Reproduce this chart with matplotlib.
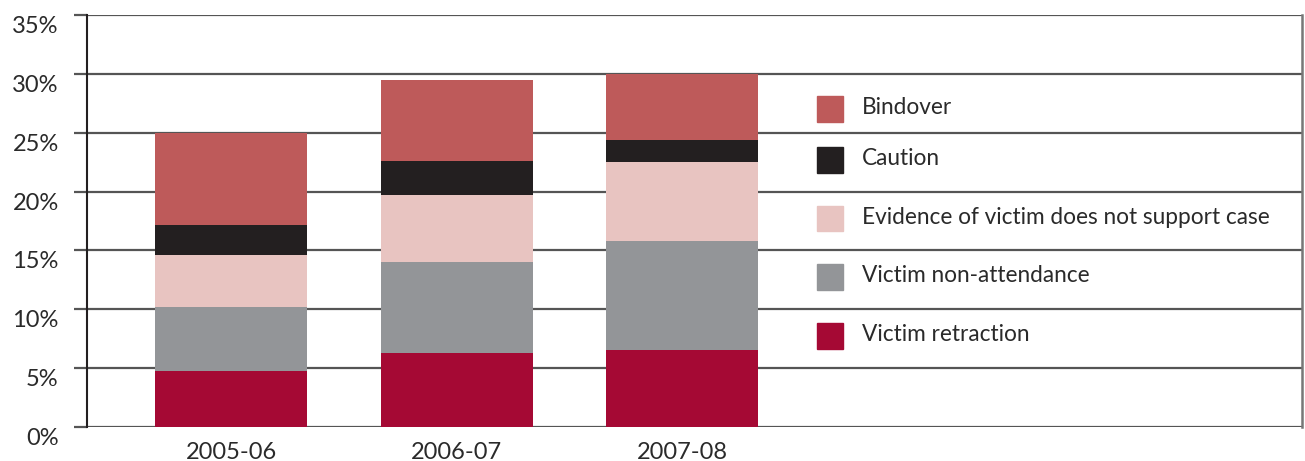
import numpy as np
import matplotlib.pyplot as plt
import matplotlib.transforms as mtransforms
from matplotlib.patches import Rectangle

# data (% of cases)
years = ['2005-06', '2006-07', '2007-08']
retraction = [4.75, 6.3, 6.55]
non_attendance = [5.45, 7.7, 9.25]
evidence = [4.4, 5.7, 6.7]
caution = [2.55, 2.9, 1.9]
bindover = [7.8, 6.9, 5.6]

series = [retraction, non_attendance, evidence, caution, bindover]
labels = ['Victim retraction', 'Victim non-attendance',
          'Evidence of victim does not support case', 'Caution', 'Bindover']
colors = ['#A50934', '#939598', '#E8C4C1', '#231F20', '#BE5A5A']
legend_rows = [7.75, 12.75, 17.7, 22.7, 27.0]

plt.rcParams['font.family'] = ['Lato', 'DejaVu Sans']

fig = plt.figure(figsize=(13.05, 4.61), dpi=100)
ax = fig.add_axes([87 / 1305, 34 / 461, 1215 / 1305, 412 / 461])

x = np.arange(len(years))
bottom = np.zeros(len(years))
for vals, lab, col in zip(series, labels, colors):
    ax.bar(x, vals, width=0.674, bottom=bottom, color=col, label=lab, zorder=3)
    bottom += np.array(vals)

ax.set_xlim(-0.639, 4.75)
ax.set_ylim(0, 35)
ax.set_yticks(np.arange(0, 36, 5))
ax.set_yticklabels([f'{v}%' for v in range(0, 36, 5)])
ax.set_xticks(x)
ax.set_xticklabels(years)

ax.yaxis.grid(True, color='#555555', linewidth=1.6, zorder=1)
ax.tick_params(axis='y', length=9.4, width=1.6, color='#555555', pad=11,
               labelsize=17, labelcolor='#2a2a2a')
ax.tick_params(axis='x', length=0, pad=11, labelsize=17, labelcolor='#2a2a2a')

# y labels sit a little below their gridlines
shift = mtransforms.ScaledTranslation(0, -9.5 / 100, fig.dpi_scale_trans)
for t in ax.get_yticklabels():
    t.set_transform(t.get_transform() + shift)

for s in ['top', 'bottom']:
    ax.spines[s].set_visible(False)
ax.spines['left'].set_color('#231F20')
ax.spines['left'].set_linewidth(1.5)
ax.spines['right'].set_color('#777777')
ax.spines['right'].set_linewidth(1.8)

# legend drawn by hand between gridlines
for yc, lab, col in zip(legend_rows, labels, colors):
    ax.add_patch(Rectangle((2.6, yc - 1.09), 0.115, 2.18, color=col, zorder=3))
    ax.text(2.8, yc - 0.44, lab, fontsize=16.3, color='#2a2a2a', va='baseline', ha='left', zorder=4)

fig.savefig('out.png', dpi=100)
